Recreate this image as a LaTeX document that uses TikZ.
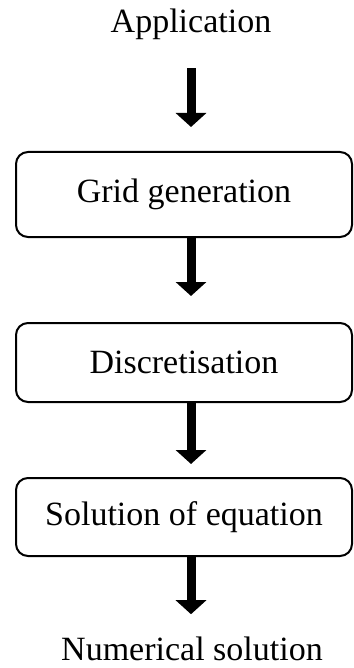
\documentclass[tikz,border=0pt]{standalone}
\usepackage{fontspec}
\setmainfont{Liberation Serif}
\usetikzlibrary{arrows.meta}
\begin{document}
\begin{tikzpicture}[x=1pt,y=1pt,
  label/.style={inner sep=0pt, font=\fontsize{34}{40}\selectfont},
  stagebox/.style={draw=black, line width=2pt, rounded corners=12pt,
    minimum width=336pt, inner sep=0pt, font=\fontsize{34}{40}\selectfont},
  bigarrow/.style={line width=9pt, -{Triangle[width=30pt,length=14pt]}}]
  \useasboundingbox (0,0) rectangle (353,-668);
  \coordinate (axis) at (191,0);

  \node[label, anchor=base] (app) at (191,-33) {Application};
  \node[stagebox, minimum height=85pt] (grid) at (184,-194.5) {Grid generation};
  \node[stagebox, minimum height=79pt] (disc) at (184,-362.5) {Discretisation};
  \node[stagebox, minimum height=78pt] (sol) at (184,-517) {Solution of equation};
  \node[label, anchor=base] (num) at (192,-660) {Numerical solution};

  \draw[bigarrow, shorten <=27.6pt, shorten >=24pt] (app.south -| axis) -- (grid.north -| axis);
  \draw[bigarrow, shorten >=26pt] (grid.south -| axis) -- (disc.north -| axis);
  \draw[bigarrow, shorten >=13pt] (disc.south -| axis) -- (sol.north -| axis);
  \draw[bigarrow, shorten >=22pt] (sol.south -| axis) -- (num.north -| axis);
\end{tikzpicture}
\end{document}
